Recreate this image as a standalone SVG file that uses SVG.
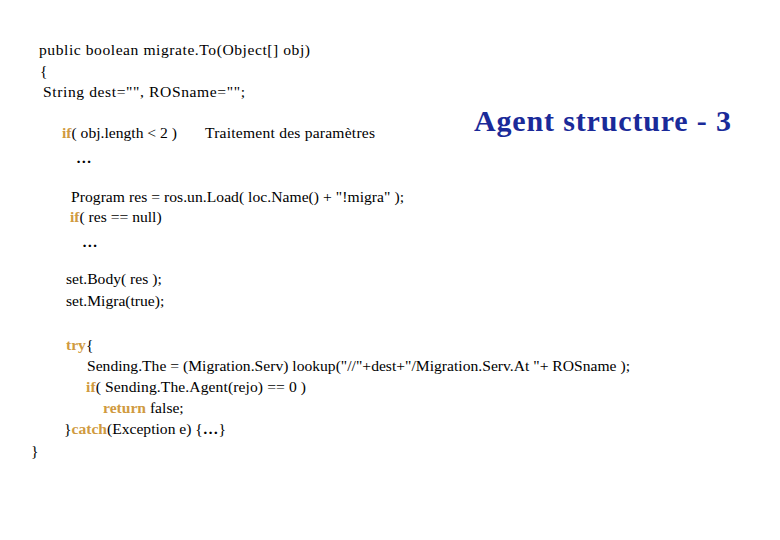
<svg xmlns="http://www.w3.org/2000/svg" width="780" height="540" viewBox="0 0 780 540">
<style>
text{font-family:"Liberation Serif","Times New Roman",serif;font-size:15.6px;fill:#000}
.k{fill:#d09a40;font-weight:bold}
.b{font-weight:bold}
</style>
<rect width="780" height="540" fill="#fff"/>
<text x="39" y="55" textLength="271">public boolean migrate.To(Object[] obj)</text>
<text x="40" y="76">{</text>
<text x="43" y="97" textLength="202">String dest="", ROSname="";</text>
<text x="62" y="138"><tspan class="k">if</tspan>( obj.length &lt; 2 )</text>
<text x="205" y="138" textLength="170">Traitement des paramètres</text>
<text x="76" y="163" class="b">…</text>
<text x="474" y="131" style="font-size:30px;font-weight:bold;fill:#1a2a99" textLength="257">Agent structure - 3</text>
<text x="71" y="202" textLength="333">Program res = ros.un.Load( loc.Name() + "!migra" );</text>
<text x="70" y="222"><tspan class="k">if</tspan>( res == null)</text>
<text x="82" y="247" class="b">…</text>
<text x="66" y="284">set.Body( res );</text>
<text x="66" y="306">set.Migra(true);</text>
<text x="66" y="350"><tspan class="k">try</tspan>{</text>
<text x="87" y="371" textLength="543">Sending.The = (Migration.Serv) lookup("//"+dest+"/Migration.Serv.At "+ ROSname );</text>
<text x="86" y="392" textLength="220"><tspan class="k">if</tspan>( Sending.The.Agent(rejo) == 0 )</text>
<text x="103" y="413"><tspan class="k">return</tspan> false;</text>
<text x="64" y="434">}<tspan class="k">catch</tspan>(Exception e) {<tspan class="b">…</tspan>}</text>
<text x="31" y="456">}</text>
</svg>
